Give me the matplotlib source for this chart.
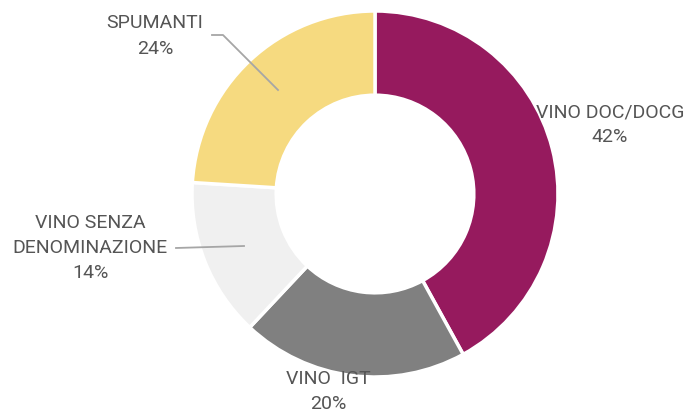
import matplotlib
matplotlib.use("Agg")
import matplotlib.pyplot as plt

categories = ["VINO DOC/DOCG", "VINO  IGT", "VINO SENZA\nDENOMINAZIONE", "SPUMANTI"]
values = [42, 20, 14, 24]
colors = ["#961A5E", "#808080", "#F0F0F0", "#F6DA80"]

W, H = 688, 414
fig = plt.figure(figsize=(W / 100, H / 100), dpi=100)
ax = fig.add_axes([0, 0, 1, 1])

cx, cy, R = 375, H - 195, 183
ax.pie(values, colors=colors, startangle=90, counterclock=False,
       center=(cx, cy), radius=R, frame=True,
       wedgeprops=dict(width=R * 0.46, edgecolor="white", linewidth=2.5))
ax.set_xlim(0, W)
ax.set_ylim(0, H)
ax.set_aspect("equal")
ax.axis("off")

fam = ["Roboto", "DejaVu Sans"]
tc = "#555555"
fs = 14
label_pos = [(610, H - 125), (328, H - 392), (90, H - 248), (155, H - 36)]
for cat, v, (x, y) in zip(categories, values, label_pos):
    ax.text(x, y, f"{cat}\n{v}%", ha="center", va="center", fontsize=fs,
            color=tc, family=fam, linespacing=1.5)

lc = "#A6A6A6"
ax.plot([212, 223, 278], [H - 36, H - 36, H - 91], color=lc, lw=1.3)
ax.plot([176, 244], [H - 249, H - 247], color=lc, lw=1.3)

fig.savefig("out.png", dpi=100)
